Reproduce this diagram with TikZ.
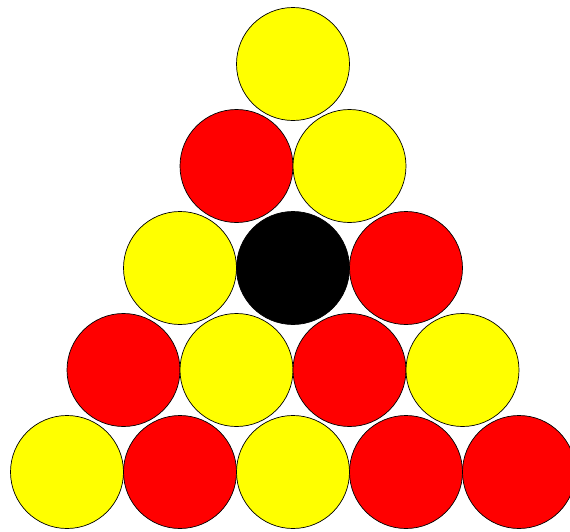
\documentclass[tikz,border=0pt]{standalone}
\usepackage{tikz}

\begin{document}
\begin{tikzpicture}[x=1pt, y=-1pt, line join=round,
    ball/.style={circle, draw=black, line width=0.7pt, inner sep=0pt, minimum size=113pt}]
    \definecolor{ballyellow}{RGB}{255,255,0}
    \definecolor{ballred}{RGB}{255,0,0}
    \definecolor{ballblack}{RGB}{0,0,0}

    % --- free parameters
    \pgfmathsetmacro{\topx}{293}  % centre of the top ball
    \pgfmathsetmacro{\topy}{64}
    \pgfmathsetmacro{\dx}{113}    % step between balls in a row
    \pgfmathsetmacro{\dy}{102}    % step between rows

    % --- frame of the picture
    \useasboundingbox (0, 0) rectangle (570, 531);
    \clip (0, 0) rectangle (570, 531);

    % --- the rack, row by row from the top
    \foreach \cols [count=\r] in {{ballyellow}, {ballred, ballyellow},
        {ballyellow, ballblack, ballred},
        {ballred, ballyellow, ballred, ballyellow},
        {ballyellow, ballred, ballyellow, ballred, ballred}} {
      \foreach \c [count=\k] in \cols {
        \node[ball, fill=\c] (b\r\k)
          at ({\topx + (\k-1)*\dx - (\r-1)*\dx/2}, {\topy + (\r-1)*\dy}) {};
      }
    }
\end{tikzpicture}
\end{document}
